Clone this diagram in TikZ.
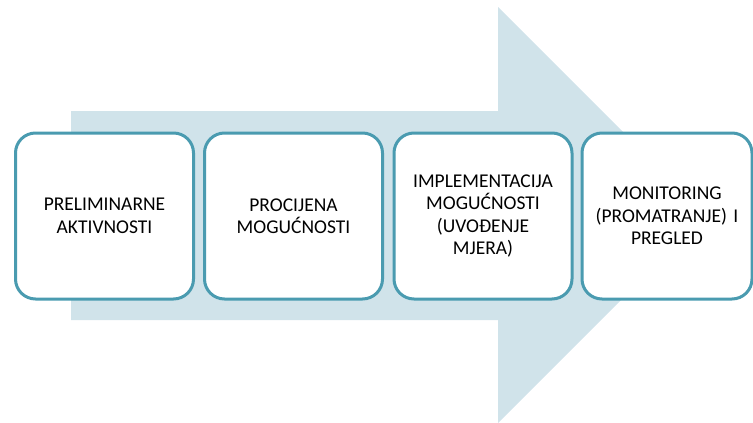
\documentclass[tikz,border=0pt]{standalone}
\usepackage{fontspec}
\setmainfont{Carlito}
\definecolor{arrowfill}{HTML}{D0E3EA}
\definecolor{boxline}{HTML}{4A9BB0}
\begin{document}
\begin{tikzpicture}[x=1pt,y=-1pt,
  stagebox/.style={draw=boxline, line width=3pt, fill=white, rounded corners=20pt,
    minimum width=178pt, minimum height=166pt, inner sep=0pt, align=center,
    text width=170pt, font=\fontsize{19.5}{22.5}\selectfont}]
\useasboundingbox (0,0) rectangle (753,423);
\fill[arrowfill] (71,111) -- (498,111) -- (498,7) -- (706,215) -- (498,423) -- (498,320) -- (71,320) -- cycle;
\node[stagebox] (s1) at (104.5,216) {PRELIMINARNE\\AKTIVNOSTI};
\node[stagebox] (s2) at (293.5,216) {PROCIJENA\\MOGUĆNOSTI};
\node[stagebox] (s3) at (483,216) {IMPLEMENTACIJA\\MOGUĆNOSTI\\(UVOĐENJE\\MJERA)};
\node[stagebox, minimum width=166pt] (s4) at (667,216) {MONITORING\\(PROMATRANJE)~I\\PREGLED};
\end{tikzpicture}
\end{document}
